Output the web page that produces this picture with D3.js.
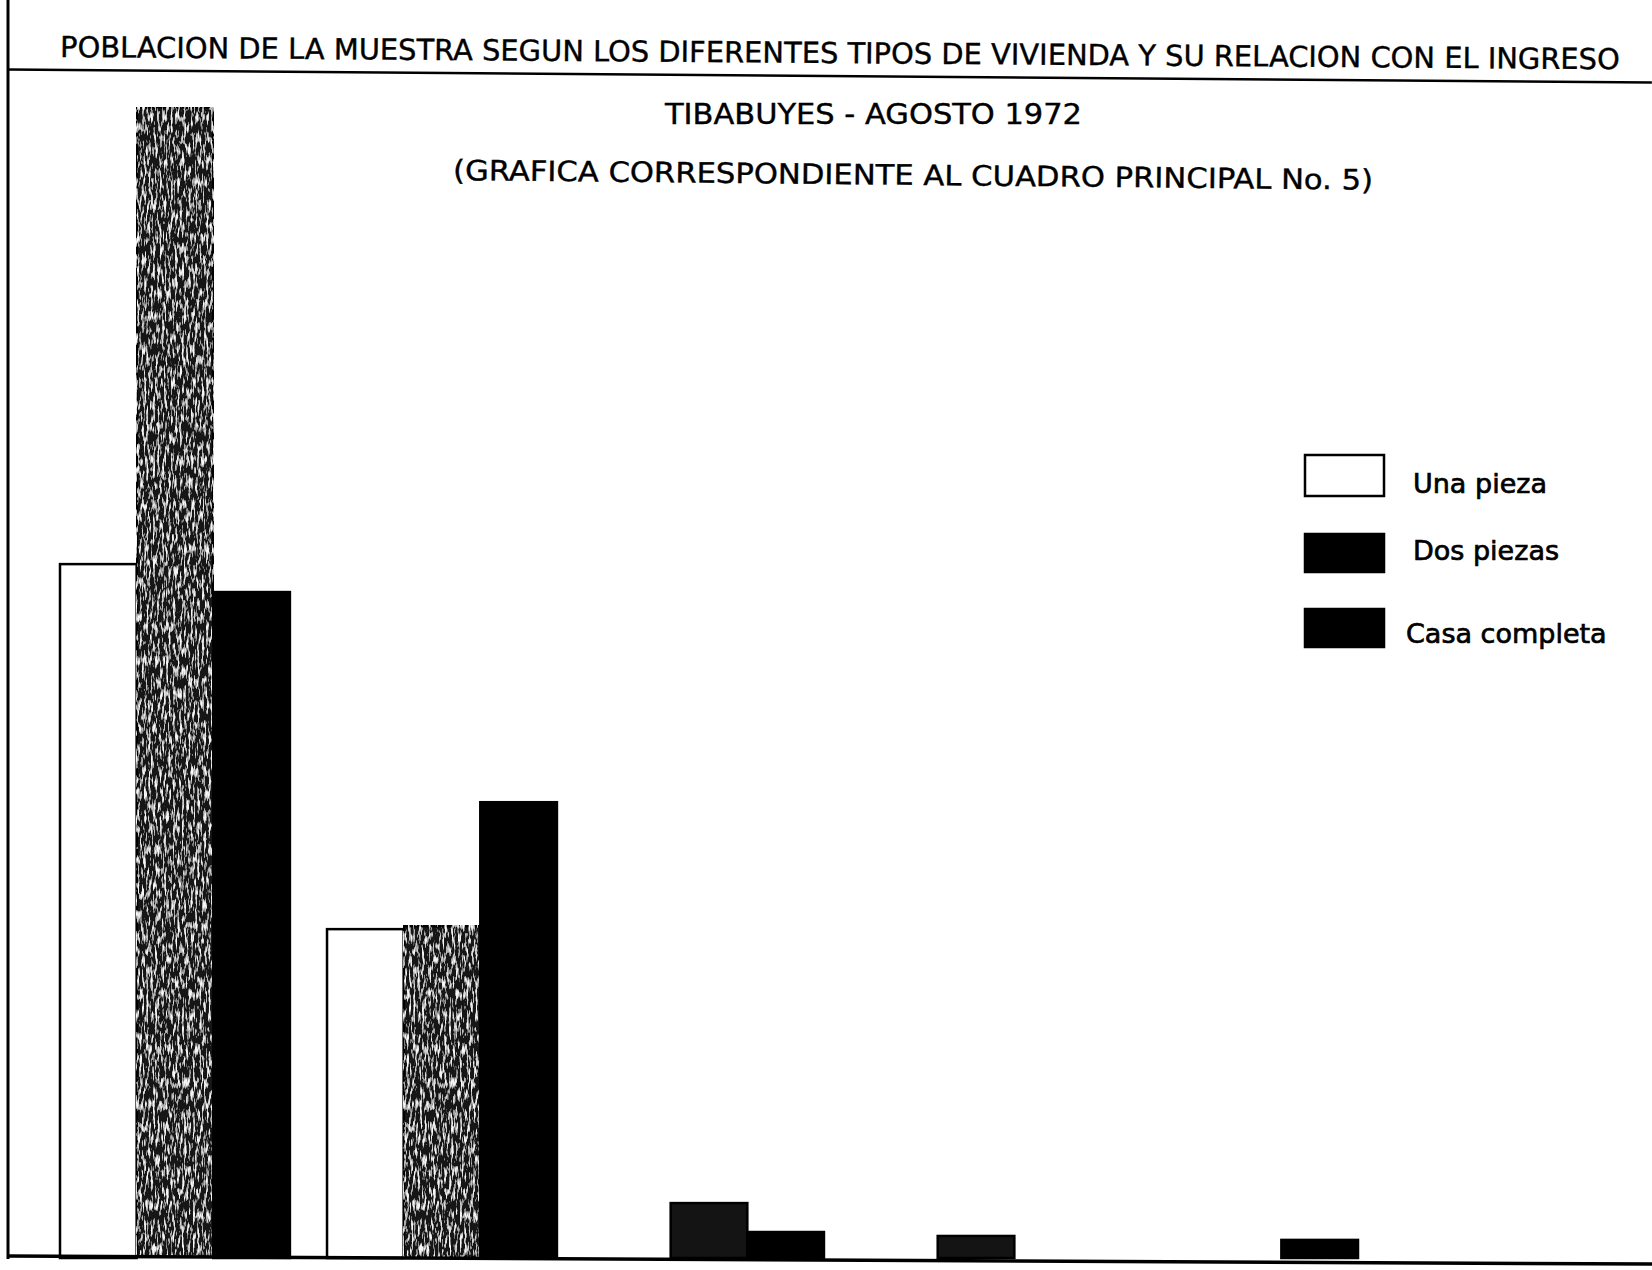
<!DOCTYPE html>
<html>
<head>
<meta charset="utf-8">
<script src="https://d3js.org/d3.v7.min.js"></script>
<style>
  body { margin: 0; background: #fff; }
  svg { display: block; }
  text { font-family: "DejaVu Sans", sans-serif; fill: #000; }
</style>
</head>
<body>
<script>
// income groups (no labels printed on the original)
var groups = ["I", "II", "III", "IV", "V"];
var keys = ["Una pieza", "Dos piezas", "Casa completa"];

var unaPieza     = [211, 100, 0, 0, 0];
var dosPiezas    = [350, 101, 16.7, 6.7, 0];
var casaCompleta = [202.5, 138.6, 7.9, 0, 5.5];

var titleText = "POBLACION DE LA MUESTRA SEGUN LOS DIFERENTES TIPOS DE VIVIENDA Y SU RELACION CON EL INGRESO";
var subTitle1 = "TIBABUYES - AGOSTO  1972";
var subTitle2 = "(GRAFICA CORRESPONDIENTE AL CUADRO PRINCIPAL No. 5)";

var data = groups.map(function(g, i) {
  return { group: g, "Una pieza": unaPieza[i], "Dos piezas": dosPiezas[i], "Casa completa": casaCompleta[i] };
});

var W = 1652, H = 1270;
var baseY = 1258, topY = 107;

var svg = d3.select("body").append("svg")
  .attr("width", W)
  .attr("height", H);

// mottled texture for the "Dos piezas" bars
var defs = svg.append("defs");
var f = defs.append("filter").attr("id", "mottle")
  .attr("x", 0).attr("y", 0).attr("width", 1).attr("height", 1);
f.append("feTurbulence").attr("type", "fractalNoise")
  .attr("baseFrequency", "0.45 0.09").attr("numOctaves", 3).attr("seed", 7).attr("result", "noise");
f.append("feColorMatrix").attr("in", "noise").attr("type", "matrix")
  .attr("values", "0 0 0 0 0.92  0 0 0 0 0.92  0 0 0 0 0.92  0 0 0 -4.2 2.1")
  .attr("result", "specks");
f.append("feComposite").attr("in", "specks").attr("in2", "SourceGraphic").attr("operator", "in").attr("result", "cut");
f.append("feMerge").call(function(m) {
  m.append("feMergeNode").attr("in", "SourceGraphic");
  m.append("feMergeNode").attr("in", "cut");
});

var x0 = d3.scaleBand().domain(groups).range([60, 1358]).paddingInner(0.139).paddingOuter(0);
var x1 = d3.scaleBand().domain(keys).range([0, x0.bandwidth()]);
var y = d3.scaleLinear().domain([0, 350]).range([baseY, topY]);

var fill = { "Una pieza": "#fff", "Dos piezas": "#141414", "Casa completa": "#000" };

svg.append("g")
  .selectAll("g")
  .data(data)
  .enter().append("g")
    .attr("transform", function(d) { return "translate(" + x0(d.group) + ",0)"; })
  .selectAll("rect")
  .data(function(d) { return keys.map(function(k) { return { key: k, value: d[k] }; }).filter(function(d) { return d.value > 0; }); })
  .enter().append("rect")
    .attr("x", function(d) { return x1(d.key); })
    .attr("y", function(d) { return y(d.value); })
    .attr("width", x1.bandwidth())
    .attr("height", function(d) { return baseY - y(d.value); })
    .attr("fill", function(d) { return fill[d.key]; })
    .attr("stroke", "#000")
    .attr("stroke-width", 2.5)
    .attr("filter", function(d) { return d.key == "Dos piezas" && d.value > 50 ? "url(#mottle)" : null; });

// axes (plain lines, no ticks)
svg.append("line").attr("x1", 8).attr("x2", 8).attr("y1", 0).attr("y2", baseY + 1)
  .attr("stroke", "#000").attr("stroke-width", 3);
svg.append("line").attr("x1", 8).attr("x2", W).attr("y1", baseY - 2).attr("y2", baseY + 6)
  .attr("stroke", "#000").attr("stroke-width", 3.5);

// titles
var t = svg.append("g").attr("transform", "rotate(0.45 60 57)");
var title = t.append("text").attr("x", 60).attr("y", 57)
  .attr("font-size", 30)
  .attr("stroke", "#000").attr("stroke-width", 0.4)
  .text(titleText);
// shrink the font until the whole title fits in the page
var natural = title.node().getComputedTextLength();
if (natural > 1560) title.attr("font-size", 30 * 1560 / natural);
t.append("line").attr("x1", 8).attr("x2", W).attr("y1", 70).attr("y2", 70)
  .attr("stroke", "#000").attr("stroke-width", 2.5);

svg.append("text").attr("x", 665).attr("y", 124)
  .attr("font-size", 28).attr("textLength", 417).attr("lengthAdjust", "spacingAndGlyphs")
  .attr("stroke", "#000").attr("stroke-width", 0.4)
  .text(subTitle1);
svg.append("text").attr("x", 453).attr("y", 180)
  .attr("transform", "rotate(0.6 453 180)")
  .attr("font-size", 28).attr("textLength", 920).attr("lengthAdjust", "spacingAndGlyphs")
  .attr("stroke", "#000").attr("stroke-width", 0.4)
  .text(subTitle2);

// legend
var legY = [455, 534, 609];
var leg = svg.append("g").selectAll("g")
  .data(keys)
  .enter().append("g")
    .attr("transform", function(d, i) { return "translate(1305," + legY[i] + ")"; });
leg.append("rect")
  .attr("width", 79)
  .attr("height", function(d, i) { return i == 0 ? 41 : 38; })
  .attr("fill", function(d, i) { return i == 0 ? "#fff" : "#000"; })
  .attr("stroke", "#000").attr("stroke-width", 2.5);
leg.append("text")
  .attr("x", function(d, i) { return i == 2 ? 101 : 108; })
  .attr("y", function(d, i) { return i == 0 ? 38 : (i == 1 ? 26 : 34); })
  .attr("font-size", 27)
  .attr("stroke", "#000").attr("stroke-width", 0.7)
  .text(function(d) { return d; });
</script>
</body>
</html>
